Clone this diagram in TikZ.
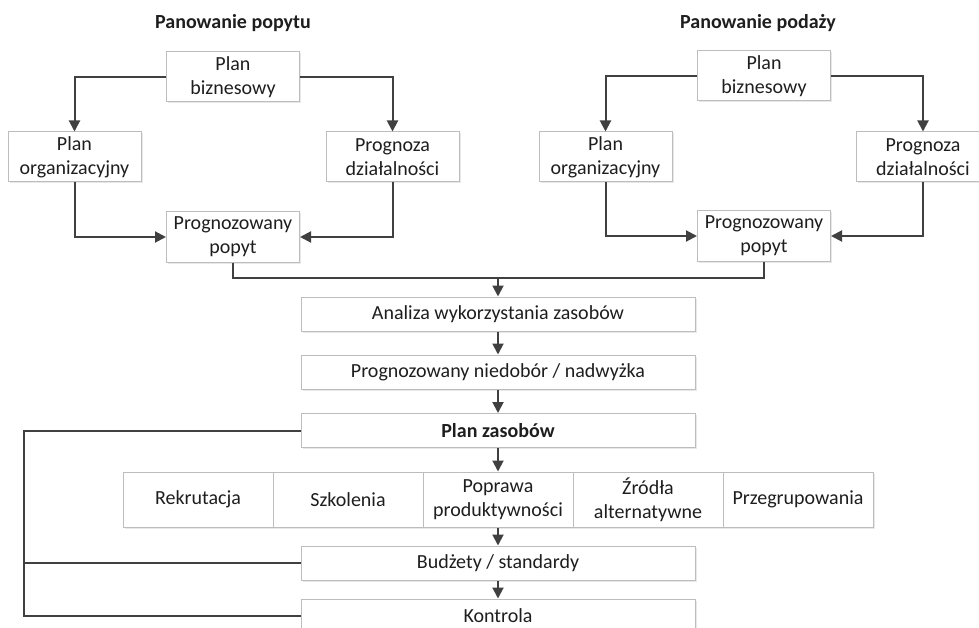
\documentclass[tikz,border=0pt]{standalone}
\usepackage{fontspec}
\setmainfont{Carlito}
\usetikzlibrary{arrows.meta,shadows}
\definecolor{linegray}{HTML}{404040}
\definecolor{boxgray}{HTML}{BDBDBD}
\definecolor{txt}{HTML}{1E1E1E}
\tikzset{
  box/.style={draw=boxgray, line width=1pt, fill=white, text=txt,
    inner sep=0pt, align=center,
    drop shadow={opacity=0.18, shadow xshift=1.5pt, shadow yshift=-1.5pt},
    font=\fontsize{20}{24}\selectfont},
  smallbox/.style={box, minimum width=133pt, minimum height=50pt},
  widebox/.style={box, minimum width=394pt, minimum height=34pt},
  cell/.style={box, minimum width=150pt, minimum height=55pt},
  heading/.style={text=txt, font=\fontsize{20}{24}\selectfont\bfseries},
  conn/.style={draw=linegray, line width=2pt,
    -{Triangle[length=11pt,width=11pt]}},
  wire/.style={draw=linegray, line width=2pt}
}
\begin{document}
\begin{tikzpicture}[x=1pt,y=-1pt]
\useasboundingbox (0,0) rectangle (979,628);

% demand-driven branch
\node[heading] (t1) at (233,23) {Panowanie popytu};
\node[smallbox] (pb1) at (233,77) {Plan\\biznesowy};
\node[smallbox] (po1) at (74.5,157) {Plan\\organizacyjny};
\node[smallbox] (pd1) at (392.5,157) {Prognoza\\działalności};
\node[smallbox] (pp1) at (233,237) {Prognozowany\\popyt};

% supply-driven branch
\node[heading] (t2) at (758,23) {Panowanie podaży};
\node[smallbox] (pb2) at (764,76) {Plan\\biznesowy};
\node[smallbox] (po2) at (605.5,157) {Plan\\organizacyjny};
\node[smallbox] (pd2) at (923,157) {Prognoza\\działalności};
\node[smallbox] (pp2) at (764,236) {Prognozowany\\popyt};

% central chain
\node[widebox] (an) at (498,314) {Analiza wykorzystania zasobów};
\node[widebox] (nd) at (498,372) {Prognozowany niedobór / nadwyżka};
\node[widebox] (pz) at (498,430.5) {\bfseries Plan zasobów};

\node[cell] (r1) at (198,499.5) {Rekrutacja};
\node[cell] (r2) at (348,499.5) {Szkolenia};
\node[cell] (r3) at (498,499.5) {Poprawa\\produktywności};
\node[cell] (r4) at (648,499.5) {Źródła\\alternatywne};
\node[cell] (r5) at (798,499.5) {Przegrupowania};

\node[widebox] (bud) at (498,563) {Budżety / standardy};
\node[widebox] (kon) at (498,616) {Kontrola};

% connectors, demand branch
\draw[conn] (pb1.west) -| (po1.north);
\draw[conn] (pb1.east) -| (pd1.north);
\draw[conn] (po1.south) |- (pp1.west);
\draw[conn] (pd1.south) |- (pp1.east);

% connectors, supply branch
\draw[conn] (pb2.west) -| (po2.north);
\draw[conn] (pb2.east) -| (pd2.north);
\draw[conn] (po2.south) |- (pp2.west);
\draw[conn] (pd2.south) |- (pp2.east);

% both forecasts merge into the analysis
\coordinate (merge) at (498,278);
\draw[wire] (pp1.south) |- (merge);
\draw[wire] (pp2.south) |- (merge);
\draw[conn] (merge) -- (an.north);

\draw[conn] (an.south) -- (nd.north);
\draw[conn] (nd.south) -- (pz.north);
\draw[conn] (pz.south) -- (r3.north);
\draw[conn] (r3.south) -- (bud.north);
\draw[conn] (bud.south) -- (kon.north);

% feedback rail on the left
\coordinate (railtop) at (24,430.5);
\coordinate (railbot) at (24,616);
\draw[wire] (pz.west) -- (railtop) -- (railbot) -- (kon.west);
\draw[wire] (bud.west) -- (bud.west -| railtop);
\end{tikzpicture}
\end{document}
